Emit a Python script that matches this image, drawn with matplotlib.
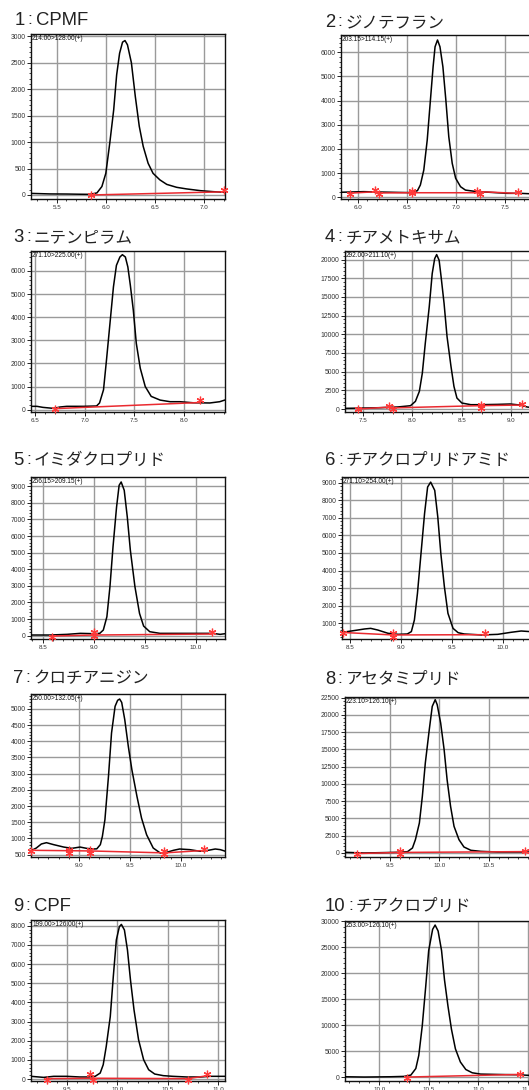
import numpy as np
import matplotlib
matplotlib.use('Agg')
import matplotlib.pyplot as plt
from matplotlib.ticker import MultipleLocator, AutoMinorLocator, FormatStrFormatter

plt.rcParams['font.family'] = ['Liberation Sans', 'Noto Sans CJK JP', 'DejaVu Sans']
nan = np.nan

# ---------------- data ----------------
title_nums = ["1", "2", "3", "4", "5", "6", "7", "8", "9", "10"]
title_names = ["CPMF", "ジノテフラン", "ニテンピラム", "チアメトキサム", "イミダクロプリド",
               "チアクロプリドアミド", "クロチアニジン", "アセタミプリド", "CPF", "チアクロプリド"]
ions = ["214.00>128.00(+)", "203.15>114.15(+)", "271.10>225.00(+)", "292.00>211.10(+)",
        "256.15>209.15(+)", "271.10>254.00(+)", "250.00>132.05(+)", "223.10>126.10(+)",
        "199.00>126.00(+)", "253.00>126.10(+)"]

t1 = [5.24, 5.43, 5.60, 5.74, 5.84, 5.91, 5.96, 6.00, 6.04, 6.08, 6.11, 6.14, 6.17, 6.195, 6.22, 6.26,
      6.30, 6.34, 6.38, 6.43, 6.48, 6.55, 6.62, 6.72, 6.82, 6.96, 7.09, 7.21]
y1 = [30, 20, 18, 14, 12, 40, 160, 410, 980, 1610, 2270, 2680, 2890, 2920, 2840, 2500,
      1860, 1300, 920, 600, 410, 285, 200, 145, 115, 82, 63, 50]
t2 = [5.83, 6.06, 6.23, 6.40, 6.54, 6.61, 6.64, 6.675, 6.71, 6.74, 6.77, 6.79, 6.815, 6.84, 6.87,
      6.90, 6.93, 6.965, 7.00, 7.05, 7.10, 7.19, 7.36, 7.53, 7.66, 7.81]
y2 = [210, 235, 220, 205, 195, 275, 510, 1130, 2370, 3890, 5400, 6230, 6510, 6230, 5400,
      4030, 2510, 1410, 790, 440, 300, 250, 205, 165, 165, 140]
t3 = [6.46, 6.52, 6.58, 6.69, 6.75, 6.82, 6.99, 7.12, 7.15, 7.19, 7.22, 7.255, 7.29, 7.32, 7.355,
      7.38, 7.41, 7.435, 7.46, 7.49, 7.52, 7.56, 7.61, 7.67, 7.76, 7.86, 7.96, 8.09, 8.26, 8.36, 8.41]
y3 = [145, 145, 100, 55, 115, 145, 145, 160, 290, 860, 2150, 3730, 5310, 6240, 6600,
      6700, 6600, 6170, 5380, 4300, 2870, 1790, 1000, 575, 415, 345, 345, 300, 290, 345, 415]
t4 = [7.32, 7.51, 7.68, 7.85, 7.98, 8.03, 8.07, 8.10, 8.13, 8.17, 8.20, 8.225, 8.245, 8.27, 8.29,
      8.32, 8.35, 8.39, 8.42, 8.45, 8.50, 8.59, 8.69, 8.86, 8.99, 9.09, 9.16, 9.28]
y4 = [90, 130, 180, 270, 440, 1020, 2360, 4800, 8800, 13690, 18130, 20130, 20670, 19910, 17690,
      14130, 9690, 5690, 3020, 1470, 800, 580, 580, 620, 670, 530, 270, 90]
t5 = [8.39, 8.57, 8.74, 8.87, 9.00, 9.06, 9.095, 9.13, 9.16, 9.19, 9.225, 9.25, 9.27, 9.30, 9.33,
      9.36, 9.405, 9.45, 9.49, 9.55, 9.65, 9.85, 10.04, 10.17, 10.24, 10.29]
y5 = [40, 40, 80, 140, 120, 140, 340, 1140, 2950, 5350, 7760, 9060, 9260, 8760, 7150,
      5150, 2950, 1340, 580, 240, 140, 140, 140, 140, 80, 120]
t6 = [8.42, 8.51, 8.64, 8.70, 8.77, 8.87, 8.97, 9.06, 9.10, 9.13, 9.16, 9.195, 9.23, 9.26, 9.29,
      9.33, 9.36, 9.39, 9.425, 9.46, 9.51, 9.56, 9.62, 9.79, 9.95, 10.08, 10.18, 10.28, 10.33]
y6 = [490, 565, 680, 715, 620, 435, 375, 395, 530, 1190, 2700, 4970, 7240, 8750, 9030,
      8560, 7050, 4970, 3080, 1570, 715, 470, 395, 340, 375, 490, 565, 525, 510]
t7 = [8.53, 8.58, 8.63, 8.68, 8.75, 8.85, 8.93, 9.01, 9.075, 9.14, 9.175, 9.21, 9.23, 9.255, 9.29,
      9.32, 9.355, 9.38, 9.40, 9.42, 9.45, 9.485, 9.52, 9.57, 9.615, 9.665, 9.73, 9.80, 9.86, 9.93,
      9.99, 10.09, 10.19, 10.255, 10.34, 10.39, 10.44]
y7 = [625, 705, 830, 870, 810, 735, 695, 735, 695, 675, 680, 810, 1065, 1580, 2920,
      4255, 5080, 5265, 5305, 5200, 4670, 3845, 3125, 2300, 1630, 1115, 705, 550, 570, 635,
      675, 655, 605, 625, 675, 655, 605]
t8 = [9.05, 9.24, 9.41, 9.58, 9.68, 9.73, 9.76, 9.80, 9.83, 9.86, 9.90, 9.93, 9.96, 9.98, 10.015,
      10.05, 10.08, 10.115, 10.15, 10.20, 10.25, 10.32, 10.42, 10.59, 10.76, 10.92, 11.01]
y8 = [100, 0, 50, 100, 190, 720, 1930, 4340, 8200, 13030, 17860, 21230, 22200, 21480, 18820,
      14960, 10620, 6760, 3860, 1930, 870, 390, 240, 145, 145, 145, 145]
t9 = [9.145, 9.27, 9.37, 9.50, 9.63, 9.73, 9.78, 9.83, 9.86, 9.89, 9.93, 9.96, 9.99, 10.02, 10.04,
      10.07, 10.10, 10.13, 10.165, 10.21, 10.26, 10.31, 10.37, 10.455, 10.55, 10.69, 10.82, 10.92, 11.07]
y9 = [140, 85, 140, 140, 105, 105, 140, 310, 745, 1700, 3260, 5350, 7260, 7950, 8070,
      7780, 6740, 5170, 3610, 2050, 1010, 485, 260, 175, 140, 105, 105, 140, 140]
t10 = [9.655, 9.85, 10.12, 10.25, 10.32, 10.37, 10.40, 10.435, 10.47, 10.50, 10.54, 10.565, 10.595,
       10.63, 10.66, 10.695, 10.73, 10.77, 10.82, 10.875, 10.94, 11.025, 11.19, 11.40, 11.53, 11.61]
y10 = [60, 0, 60, 125, 380, 1640, 4170, 9840, 17420, 24360, 28460, 29280, 28140,
       24360, 18680, 13630, 9210, 5430, 2900, 1450, 820, 570, 505, 440, 315, 250]

# integration baselines (red) and their end markers
bl_t = [[5.85, 7.21], [5.91, 6.18, nan, 6.21, 6.55, 7.25, nan, 7.22, 7.65], [6.70, 8.16],
        [7.45, 7.76, nan, 7.80, 8.69, 9.11], [8.59, 9.00, 10.16], [8.43, 8.92, 9.82],
        [8.53, 9.11, 9.84, 10.23], [9.17, 9.60, 10.87], [9.30, 9.76, 10.70, 10.89], [10.28, 11.42]]
bl_y = [[0, 60], [170, 230, nan, 180, 190, 190, nan, 240, 160], [45, 310],
        [0, 250, nan, 150, 450, 530], [-20, 40, 100], [480, 340, 355],
        [635, 615, 555, 630], [-80, 80, 200], [20, 40, 20, 170], [0, 505]]
mk_t = [[5.85, 7.20], [5.92, 6.18, 6.215, 6.55, 6.55, 7.22, 7.25, 7.64], [6.70, 8.16],
        [7.45, 7.76, 7.80, 8.69, 8.69, 9.11], [8.59, 9.00, 9.00, 10.16], [8.43, 8.92, 8.92, 9.82],
        [8.53, 8.90, 8.90, 9.11, 9.11, 9.84, 9.84, 10.23], [9.17, 9.60, 9.60, 10.87],
        [9.30, 9.73, 9.76, 10.70, 10.89], [10.28, 11.42]]
mk_y = [[0, 100], [150, 310, 120, 260, 165, 280, 140, 240], [40, 400],
        [0, 400, 50, 500, 150, 650], [-60, 200, -40, 250], [430, 450, 250, 450],
        [620, 650, 560, 650, 560, 600, 510, 670], [-150, 300, -150, 350],
        [-40, 250, -50, -50, 250], [-250, 650]]

xlims = [(5.239, 7.212), (5.83, 7.81), (6.46, 8.413), (7.318, 9.28), (8.386, 10.288),
         (8.418, 10.326), (8.528, 10.436), (9.049, 11.008), (9.145, 11.066), (9.655, 11.614)]
ylims = [(-76, 3044), (-69, 6716), (-100, 6860), (-400, 21150), (-200, 9560),
         (110, 9320), (428, 5460), (-580, 22590), (-104, 8300), (-760, 30060)]
ysteps = [500, 1000, 1000, 2500, 1000, 1000, 500, 2500, 1000, 5000]

traces_t = [t1, t2, t3, t4, t5, t6, t7, t8, t9, t10]
traces_y = [y1, y2, y3, y4, y5, y6, y7, y8, y9, y10]

# ---------------- layout (pixels) ----------------
W, H = 529, 1090
ax_left = [31, 341, 31, 345, 31, 342, 31, 345, 31, 345]
ax_top = [34, 35, 251, 251, 477, 477, 694, 697, 920, 921]
ax_bot = [199, 199, 412, 412, 639, 639, 857, 857, 1081, 1081]
ax_w = 194
title_x = [15, 325, 13, 325, 13, 325, 13, 325, 13, 325]
title_base = [25, 27, 242, 242, 465, 465, 683, 684, 911, 911]

fig = plt.figure(figsize=(W / 100, H / 100), dpi=100)
renderer = fig.canvas.get_renderer()

grid_c = '#9a9a9a'
red = '#ea2a30'
title_c = '#222222'

for i in range(10):
    rect = [ax_left[i] / W, 1 - ax_bot[i] / H, ax_w / W, (ax_bot[i] - ax_top[i]) / H]
    ax = fig.add_axes(rect)
    ax.set_xlim(*xlims[i])
    ax.set_ylim(*ylims[i])
    x0, x1 = xlims[i]
    ticks = np.arange(np.ceil(x0 * 2) / 2, x1 + 1e-9, 0.5)
    vis = [t for t in ticks if ax_left[i] + (t - x0) / (x1 - x0) * ax_w < W + 1]
    ax.set_xticks(vis)
    ax.xaxis.set_minor_locator(MultipleLocator(0.1))
    ax.xaxis.set_major_formatter(FormatStrFormatter('%.1f'))
    ax.yaxis.set_major_locator(MultipleLocator(ysteps[i]))
    ax.yaxis.set_minor_locator(AutoMinorLocator(5))
    ax.yaxis.set_major_formatter(FormatStrFormatter('%d'))
    ax.grid(True, which='major', color=grid_c, lw=1.0)
    ax.set_axisbelow(True)
    ax.tick_params(which='major', direction='out', length=2.6, width=0.7, pad=1.2,
                   labelcolor='#333333', color='#222222')
    ax.tick_params(axis='y', which='major', labelsize=4.9)
    ax.tick_params(axis='x', which='major', labelsize=4.5, pad=1.8)
    ax.tick_params(which='minor', direction='out', length=1.6, width=0.6, color='#222222')
    for s in ax.spines.values():
        s.set_linewidth(1.0)
        s.set_color('#111111')

    ax.plot(traces_t[i], traces_y[i], color='black', lw=1.1, zorder=3)
    ax.plot(bl_t[i], bl_y[i], color=red, lw=1.1, zorder=4)
    ax.plot(mk_t[i], mk_y[i], ls='none', marker=(6, 2, 0), ms=5.5, mew=0.9,
            color='#ff3a3a', zorder=5, clip_on=False)

    ax.text(0.006, 0.995, ions[i], transform=ax.transAxes, ha='left', va='top',
            fontsize=4.7, color='#111111', zorder=6)

    # title: number, centred colon, name
    yb = 1 - title_base[i] / H
    tn = fig.text(title_x[i] / W, yb, title_nums[i], ha='left', va='baseline',
                  fontsize=13.3, family='Liberation Sans', color=title_c)
    bb = tn.get_window_extent(renderer=renderer)
    tc = fig.text((bb.x1 + 2.5) / W, yb + 1.4 / H, ':', ha='left', va='baseline',
                  fontsize=12.5, family='Liberation Sans', color=title_c)
    bbc = tc.get_window_extent(renderer=renderer)
    name = title_names[i]
    if name.isascii():
        fig.text((bbc.x1 + 3.5) / W, yb, name, ha='left', va='baseline',
                 fontsize=13.3, family='Liberation Sans', color=title_c)
    else:
        fig.text((bbc.x1 + 3.0) / W, yb, name, ha='left', va='baseline',
                 fontsize=11.9, family=['Noto Sans CJK JP', 'DejaVu Sans'], color=title_c)

fig.savefig('out.png', dpi=100)
